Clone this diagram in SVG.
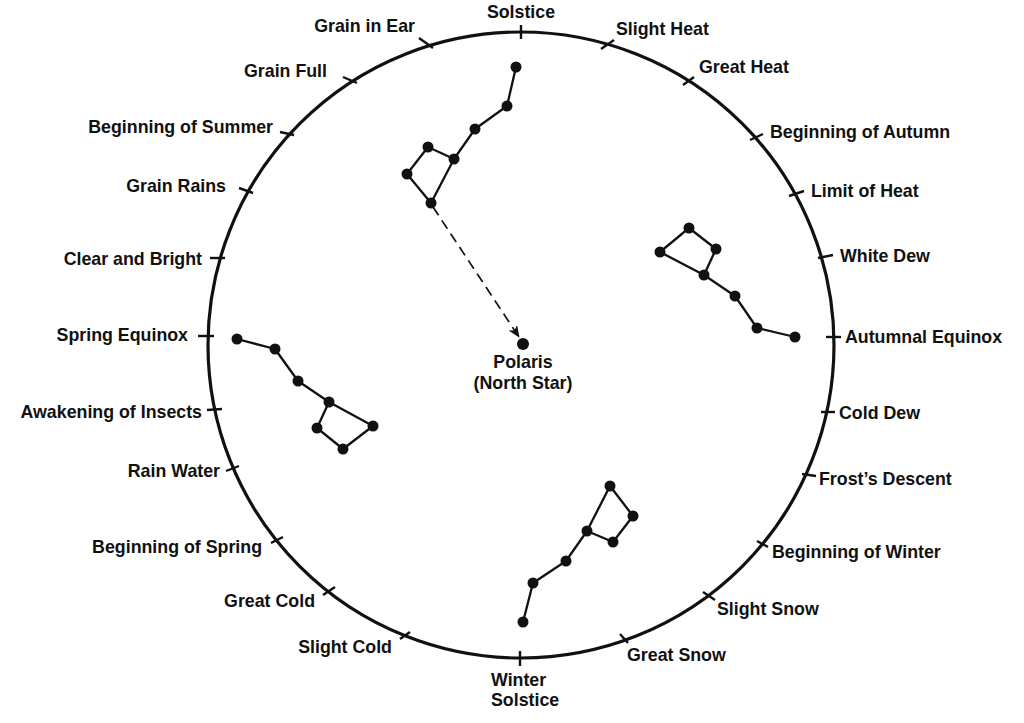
<svg xmlns="http://www.w3.org/2000/svg" width="1024" height="723" viewBox="0 0 1024 723">
<style>
.lbl{font-family:"Liberation Sans",Arial,sans-serif;font-weight:bold;font-size:17.8px;fill:#111}
.e{text-anchor:end}
.m{text-anchor:middle}
.tk{stroke:#111;stroke-width:2.4;stroke-linecap:butt}
.ln{stroke:#111;stroke-width:2.3;fill:none;stroke-linejoin:round}
.st{fill:#111}
</style>
<defs>
<marker id="arr" markerWidth="12" markerHeight="10" refX="11" refY="5" orient="auto" markerUnits="userSpaceOnUse">
<path d="M0,0 L12,5 L0,10 L3,5 Z" fill="#111"/>
</marker>
</defs>
<rect width="1024" height="723" fill="#fff"/>
<g id="dial">
<circle cx="521" cy="345" r="313" fill="none" stroke="#111" stroke-width="3.2"/>
</g>
<g id="ticks">
<line class="tk" x1="521" y1="25" x2="521" y2="39"/>
<line class="tk" x1="601" y1="49" x2="614" y2="40"/>
<line class="tk" x1="683" y1="85" x2="694" y2="77"/>
<line class="tk" x1="750" y1="140" x2="763" y2="134"/>
<line class="tk" x1="789" y1="196" x2="804" y2="191"/>
<line class="tk" x1="818" y1="258" x2="833" y2="255"/>
<line class="tk" x1="826" y1="337" x2="841" y2="337"/>
<line class="tk" x1="821" y1="412" x2="835" y2="412"/>
<line class="tk" x1="802" y1="474" x2="816" y2="476"/>
<line class="tk" x1="757" y1="541" x2="768" y2="547"/>
<line class="tk" x1="703" y1="592" x2="715" y2="600"/>
<line class="tk" x1="620" y1="634" x2="628" y2="643"/>
<line class="tk" x1="520" y1="651" x2="520" y2="666"/>
<line class="tk" x1="400" y1="639" x2="410" y2="632"/>
<line class="tk" x1="323" y1="595" x2="335" y2="587"/>
<line class="tk" x1="271" y1="543" x2="283" y2="537"/>
<line class="tk" x1="226" y1="471" x2="239" y2="466"/>
<line class="tk" x1="207" y1="410" x2="222" y2="409"/>
<line class="tk" x1="198" y1="336" x2="214" y2="336"/>
<line class="tk" x1="210" y1="258" x2="225" y2="258"/>
<line class="tk" x1="239" y1="188" x2="253" y2="193"/>
<line class="tk" x1="280" y1="132" x2="294" y2="135"/>
<line class="tk" x1="343" y1="77" x2="357" y2="83"/>
<line class="tk" x1="419" y1="38" x2="433" y2="48"/>
</g>
<g id="labels">
<text id="t-solstice" class="lbl m" x="521" y="18">Solstice</text>
<text id="t-slight-heat" class="lbl" x="616" y="35">Slight Heat</text>
<text id="t-great-heat" class="lbl" x="699" y="73">Great Heat</text>
<text id="t-beg-autumn" class="lbl" x="770" y="138">Beginning of Autumn</text>
<text id="t-limit-heat" class="lbl" x="811" y="197">Limit of Heat</text>
<text id="t-white-dew" class="lbl" x="840" y="262">White Dew</text>
<text id="t-aut-equinox" class="lbl" x="845" y="343">Autumnal Equinox</text>
<text id="t-cold-dew" class="lbl" x="839" y="419">Cold Dew</text>
<text id="t-frost" class="lbl" x="819" y="485">Frost’s Descent</text>
<text id="t-beg-winter" class="lbl" x="772" y="558">Beginning of Winter</text>
<text id="t-slight-snow" class="lbl" x="717" y="615">Slight Snow</text>
<text id="t-great-snow" class="lbl" x="627" y="661">Great Snow</text>
<text id="t-winter-solstice" class="lbl" x="491" y="686">Winter<tspan x="491" y="706">Solstice</tspan></text>
<text id="t-slight-cold" class="lbl e" x="392" y="653">Slight Cold</text>
<text id="t-great-cold" class="lbl e" x="315" y="607">Great Cold</text>
<text id="t-beg-spring" class="lbl e" x="262" y="553">Beginning of Spring</text>
<text id="t-rain-water" class="lbl e" x="220" y="477">Rain Water</text>
<text id="t-awakening" class="lbl e" x="202" y="418">Awakening of Insects</text>
<text id="t-spr-equinox" class="lbl e" x="188" y="341">Spring Equinox</text>
<text id="t-clear-bright" class="lbl e" x="202" y="265">Clear and Bright</text>
<text id="t-grain-rains" class="lbl e" x="226" y="192">Grain Rains</text>
<text id="t-beg-summer" class="lbl e" x="273" y="133">Beginning of Summer</text>
<text id="t-grain-full" class="lbl e" x="327" y="77">Grain Full</text>
<text id="t-grain-ear" class="lbl e" x="415" y="32">Grain in Ear</text>
</g>
<g id="dipper-summer">
<polyline class="ln" points="516,67 507,106 475,129 454,159 428,147 407,174 431,203 454,159"/>
<circle class="st" cx="516" cy="67" r="5.5"/><circle class="st" cx="507" cy="106" r="5.5"/><circle class="st" cx="475" cy="129" r="5.5"/><circle class="st" cx="454" cy="159" r="5.5"/><circle class="st" cx="428" cy="147" r="5.5"/><circle class="st" cx="407" cy="174" r="5.5"/><circle class="st" cx="431" cy="203" r="5.5"/>
</g>
<g id="dipper-autumn">
<polyline class="ln" points="795,337 757,328 735,296 704,275 716,249 689,228 660,252 704,275"/>
<circle class="st" cx="795" cy="337" r="5.5"/><circle class="st" cx="757" cy="328" r="5.5"/><circle class="st" cx="735" cy="296" r="5.5"/><circle class="st" cx="704" cy="275" r="5.5"/><circle class="st" cx="716" cy="249" r="5.5"/><circle class="st" cx="689" cy="228" r="5.5"/><circle class="st" cx="660" cy="252" r="5.5"/>
</g>
<g id="dipper-winter">
<polyline class="ln" points="523,622 533,583 566,561 587,531 610,486 633,516 613,542 587,531"/>
<circle class="st" cx="523" cy="622" r="5.5"/><circle class="st" cx="533" cy="583" r="5.5"/><circle class="st" cx="566" cy="561" r="5.5"/><circle class="st" cx="587" cy="531" r="5.5"/><circle class="st" cx="610" cy="486" r="5.5"/><circle class="st" cx="633" cy="516" r="5.5"/><circle class="st" cx="613" cy="542" r="5.5"/>
</g>
<g id="dipper-spring">
<polyline class="ln" points="237,339 275,349 298,381 329,402 373,426 343,449 317,428 329,402"/>
<circle class="st" cx="237" cy="339" r="5.5"/><circle class="st" cx="275" cy="349" r="5.5"/><circle class="st" cx="298" cy="381" r="5.5"/><circle class="st" cx="329" cy="402" r="5.5"/><circle class="st" cx="373" cy="426" r="5.5"/><circle class="st" cx="343" cy="449" r="5.5"/><circle class="st" cx="317" cy="428" r="5.5"/>
</g>
<g id="polaris">
<circle class="st" cx="523" cy="344" r="6"/>
<text class="lbl m" x="523" y="368">Polaris</text>
<text class="lbl m" x="523" y="389">(North Star)</text>
</g>
<g id="connectors">
<line x1="433" y1="207" x2="519" y2="337" stroke="#111" stroke-width="1.7" stroke-dasharray="10,6" marker-end="url(#arr)"/>
</g>
</svg>
